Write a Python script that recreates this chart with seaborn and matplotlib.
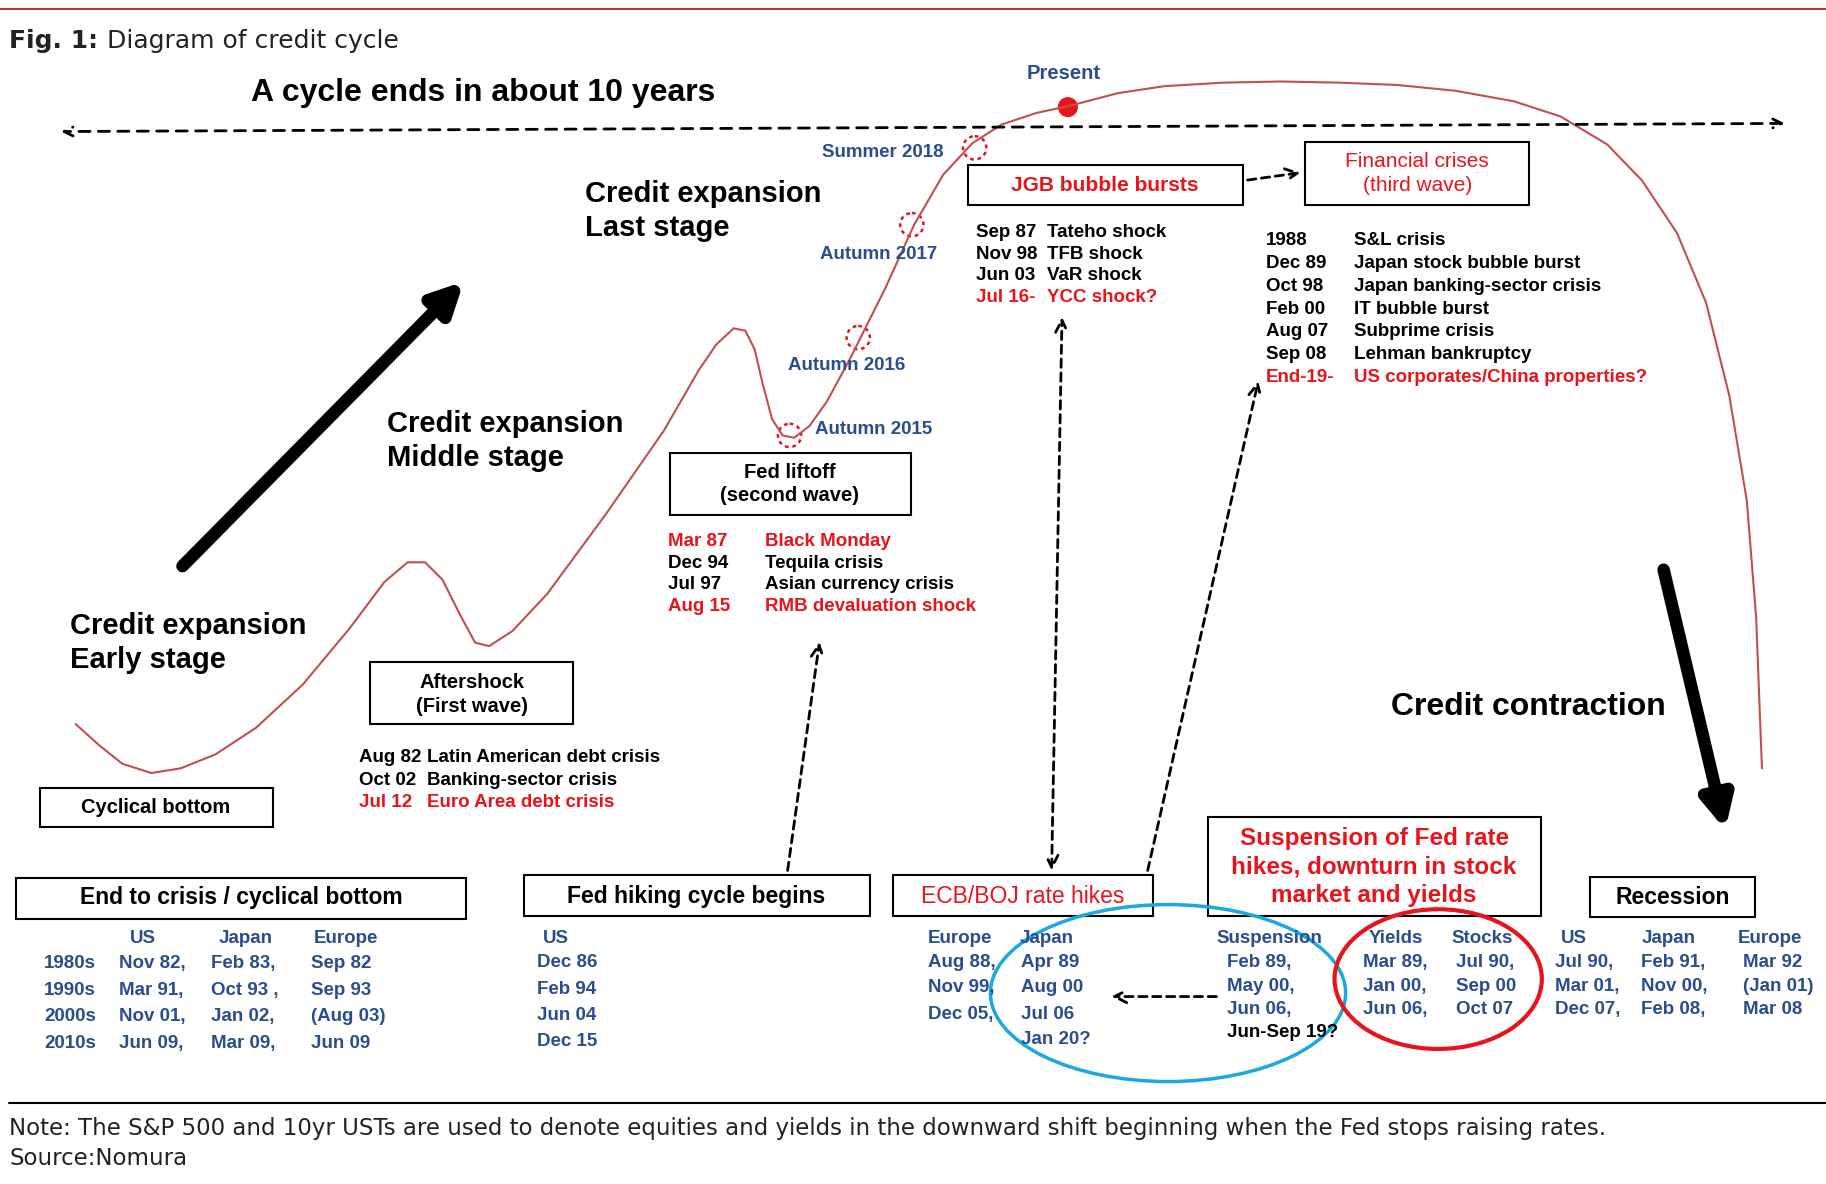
import matplotlib
matplotlib.use("Agg")
import matplotlib.pyplot as plt
import seaborn as sns
from matplotlib.patches import Rectangle, Ellipse, Circle

# credit cycle curve (x in reference px, y level; y grows downward)
curve_x = [65, 85, 105, 130, 155, 185, 220, 260, 300, 330, 350, 365, 380, 395, 408, 420, 440, 470,
           520, 570, 600, 615, 630, 640, 648, 655, 663, 672, 682, 695, 710, 730, 760, 785, 810, 835,
           860, 890, 918, 960, 1000, 1050, 1100, 1150, 1200, 1250, 1300, 1340, 1380, 1410, 1440,
           1465, 1485, 1500, 1508, 1513]
curve_y = [622, 640, 656, 664, 660, 648, 625, 588, 540, 500, 483, 483, 498, 528, 552, 555, 542, 510,
           442, 370, 318, 296, 282, 284, 300, 330, 360, 374, 376, 366, 345, 308, 248, 193, 150, 123,
           107, 97, 91, 80, 74, 71, 70, 71, 73, 78, 87, 100, 124, 155, 200,
           260, 340, 430, 530, 660]

milestones = ["Autumn 2015", "Autumn 2016", "Autumn 2017", "Summer 2018"]
milestone_x = [678, 737, 783, 837]
milestone_y = [374, 290, 193, 127]

aftershock = [("Aug 82", "Latin American debt crisis", 0), ("Oct 02", "Banking-sector crisis", 0),
              ("Jul 12", "Euro Area debt crisis", 1)]
liftoff = [("Mar 87", "Black Monday", 1), ("Dec 94", "Tequila crisis", 0),
           ("Jul 97", "Asian currency crisis", 0), ("Aug 15", "RMB devaluation shock", 1)]
jgb = [("Sep 87", "Tateho shock", 0), ("Nov 98", "TFB shock", 0), ("Jun 03", "VaR shock", 0),
       ("Jul 16-", "YCC shock?", 1)]
crises = [("1988", "S&L crisis", 0), ("Dec 89", "Japan stock bubble burst", 0),
          ("Oct 98", "Japan banking-sector crisis", 0), ("Feb 00", "IT bubble burst", 0),
          ("Aug 07", "Subprime crisis", 0), ("Sep 08", "Lehman bankruptcy", 0),
          ("End-19-", "US corporates/China properties?", 1)]

bottom_decades = ["1980s", "1990s", "2000s", "2010s"]
bottom_us = ["Nov 82,", "Mar 91,", "Nov 01,", "Jun 09,"]
bottom_jp = ["Feb 83,", "Oct 93 ,", "Jan 02,", "Mar 09,"]
bottom_eu = ["Sep 82", "Sep 93", "(Aug 03)", "Jun 09"]
hike_us = ["Dec 86", "Feb 94", "Jun 04", "Dec 15"]
ecb_eu = ["Aug 88,", "Nov 99,", "Dec 05,"]
ecb_jp = ["Apr 89", "Aug 00", "Jul 06", "Jan 20?"]
susp = ["Feb 89,", "May 00,", "Jun 06,"]
yields = ["Mar 89,", "Jan 00,", "Jun 06,"]
stocks = ["Jul 90,", "Sep 00", "Oct 07"]
rec_us = ["Jul 90,", "Mar 01,", "Dec 07,"]
rec_jp = ["Feb 91,", "Nov 00,", "Feb 08,"]
rec_eu = ["Mar 92", "(Jan 01)", "Mar 08"]

BLUE = "#2a4d8f"
RED = "#e8141c"
FONT = "Liberation Sans"
SMALL = 13.5
BIG = 21

sns.set_theme(style="white")
fig = plt.figure(figsize=(18.26, 11.84), dpi=100)
ax = fig.add_axes([0, 0, 1, 1])
ax.set_xlim(0, 1568)
ax.set_ylim(1017, 0)
ax.axis("off")


def txt(x, y, s, size=SMALL, color="black", weight="bold", ha="left", va="center", **kw):
    ax.text(x, y, s, fontsize=size, color=color, fontweight=weight, ha=ha, va=va,
            family=FONT, **kw)


def box(x0, y0, x1, y1, lw=1.5):
    ax.add_patch(Rectangle((x0, y0), x1 - x0, y1 - y0, fill=False, ec="black", lw=lw))


def darrow(x0, y0, x1, y1, both=False):
    ax.annotate("", xy=(x1, y1), xytext=(x0, y0),
                arrowprops=dict(arrowstyle="<->" if both else "->", ls=(0, (3, 2)), lw=2,
                                color="black", mutation_scale=22))


# frame lines
ax.plot([0, 1568], [8, 8], color="#c0392b", lw=1.5)
ax.plot([8, 1568], [947, 947], color="black", lw=1.5)
ax.text(8, 35, "Fig. 1:", fontsize=18, fontweight="bold", family="DejaVu Sans", va="center", color="#222")
ax.text(92, 35, "Diagram of credit cycle", fontsize=18, family="DejaVu Sans", va="center", color="#222")
ax.text(8, 969, "Note: The S&P 500 and 10yr USTs are used to denote equities and yields in the downward "
        "shift beginning when the Fed stops raising rates.", fontsize=16.5, family="DejaVu Sans",
        va="center", color="#222")
ax.text(8, 995, "Source:Nomura", fontsize=16.5, family="DejaVu Sans", va="center", color="#222")

# cycle length arrow
ax.annotate("", xy=(50, 113), xytext=(1535, 106),
            arrowprops=dict(arrowstyle="<->", ls=(0, (4, 3)), lw=2, color="black", mutation_scale=16))
txt(415, 80, "A cycle ends in about 10 years", size=23, ha="center")

# curve
sns.lineplot(x=curve_x, y=curve_y, ax=ax, color="#c0504d", lw=1.5, sort=False, estimator=None)
for name, mx, my in zip(milestones, milestone_x, milestone_y):
    ax.add_patch(Circle((mx, my), 10, fill=False, ec=RED, lw=1.8, ls=(0, (1.5, 1.5))))
txt(700, 369, "Autumn 2015", color=BLUE)
txt(677, 314, "Autumn 2016", color=BLUE)
txt(704, 219, "Autumn 2017", color=BLUE)
txt(706, 131, "Summer 2018", color=BLUE)
ax.add_patch(Circle((917, 92), 8, color=RED))
txt(913, 63, "Present", color=BLUE, ha="center", size=14.5)

# stage labels
txt(60, 538, "Credit expansion", size=BIG)
txt(60, 567, "Early stage", size=BIG)
txt(332, 364, "Credit expansion", size=BIG)
txt(332, 393, "Middle stage", size=BIG)
txt(502, 167, "Credit expansion", size=BIG)
txt(502, 196, "Last stage", size=BIG)
txt(1312, 607, "Credit contraction", size=23, ha="center")
ax.annotate("", xy=(400, 240), xytext=(155, 488),
            arrowprops=dict(arrowstyle="-|>", lw=9, color="black", mutation_scale=45))
ax.annotate("", xy=(1482, 715), xytext=(1428, 487),
            arrowprops=dict(arrowstyle="-|>", lw=9, color="black", mutation_scale=45))

# event boxes
box(34, 677, 234, 710)
txt(134, 694, "Cyclical bottom", size=14.5, ha="center")
box(318, 569, 492, 622)
txt(405, 586, "Aftershock", size=14.5, ha="center")
txt(405, 607, "(First wave)", size=14.5, ha="center")
box(575, 389, 782, 442)
txt(678, 406, "Fed liftoff", size=14.5, ha="center")
txt(678, 426, "(second wave)", size=14.5, ha="center")
box(831, 142, 1067, 176)
txt(949, 159, "JGB bubble bursts", size=15, color=RED, ha="center")
box(1121, 122, 1313, 176)
txt(1217, 139, "Financial crises", size=15, color=RED, ha="center", weight="normal")
txt(1217, 159, "(third wave)", size=15, color=RED, ha="center", weight="normal")
darrow(1069, 155, 1119, 148)


def event_list(x0, x1, y0, dy, rows):
    for i, (d, n, red) in enumerate(rows):
        c = RED if red else "black"
        txt(x0, y0 + i * dy, d, color=c)
        txt(x1, y0 + i * dy, n, color=c)


event_list(308, 367, 651, 19, aftershock)
event_list(574, 657, 465, 18.7, liftoff)
event_list(838, 899, 200, 18.5, jgb)
event_list(1087, 1163, 207, 19.5, crises)

# bottom boxes
box(14, 754, 400, 789)
txt(207, 771, "End to crisis / cyclical bottom", size=16.5, ha="center")
box(450, 752, 747, 787)
txt(598, 770, "Fed hiking cycle begins", size=16.5, ha="center")
box(767, 752, 990, 787)
txt(878, 770, "ECB/BOJ rate hikes", size=16.5, ha="center", color=RED, weight="normal")
box(1037, 702, 1323, 787)
for i, s in enumerate(["Suspension of Fed rate", "hikes, downturn in stock", "market and yields"]):
    txt(1180, 720 + i * 24.5, s, size=17.5, color=RED, ha="center")
box(1365, 753, 1507, 788)
txt(1436, 771, "Recession", size=16.5, ha="center")

darrow(676, 750, 704, 549)
darrow(903, 750, 912, 270, both=True)
darrow(985, 750, 1081, 325)
darrow(1047, 856, 952, 856)

ax.add_patch(Ellipse((1003, 853), 305, 152, fill=False, ec="#1ba8e0", lw=2.5))
ax.add_patch(Ellipse((1235, 841), 178, 120, fill=False, ec=RED, lw=3))

# bottom tables
ys = [828, 851, 873, 896]
ys3 = [827, 847, 867]
for lbl, x in [("US", 123), ("Japan", 211), ("Europe", 297)]:
    txt(x, 806, lbl, color=BLUE, ha="center")
for i in range(4):
    txt(60, ys[i], bottom_decades[i], color=BLUE, ha="center")
    txt(102, ys[i], bottom_us[i], color=BLUE)
    txt(181, ys[i], bottom_jp[i], color=BLUE)
    txt(267, ys[i], bottom_eu[i], color=BLUE)
txt(466, 806, "US", color=BLUE)
for i, s in enumerate(hike_us):
    txt(461, ys[i] - 1, s, color=BLUE)
txt(797, 806, "Europe", color=BLUE)
txt(876, 806, "Japan", color=BLUE)
for i, s in enumerate(ecb_eu):
    txt(797, [827, 848, 871][i], s, color=BLUE)
for i, s in enumerate(ecb_jp):
    txt(877, [827, 848, 871, 893][i], s, color=BLUE)
txt(1045, 806, "Suspension", color=BLUE)
for i, s in enumerate(susp):
    txt(1054, ys3[i], s, color=BLUE)
txt(1054, 887, "Jun-Sep 19?", color="black")
txt(1175, 806, "Yields", color=BLUE)
txt(1246, 806, "Stocks", color=BLUE)
for i in range(3):
    txt(1170, ys3[i], yields[i], color=BLUE)
    txt(1250, ys3[i], stocks[i], color=BLUE)
txt(1340, 806, "US", color=BLUE)
txt(1410, 806, "Japan", color=BLUE)
txt(1492, 806, "Europe", color=BLUE)
for i in range(3):
    txt(1335, ys3[i], rec_us[i], color=BLUE)
    txt(1409, ys3[i], rec_jp[i], color=BLUE)
    txt(1497, ys3[i], rec_eu[i], color=BLUE)

fig.savefig("out.png", dpi=100)
